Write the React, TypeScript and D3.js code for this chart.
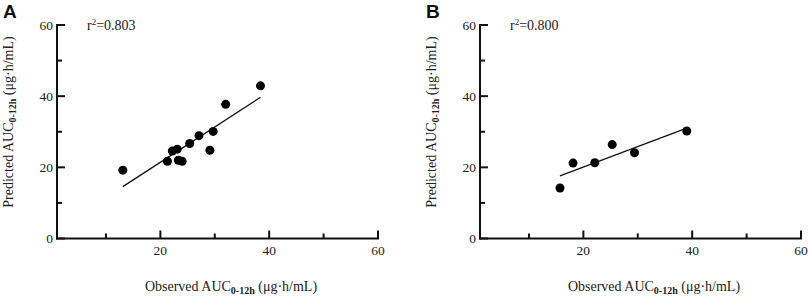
import React from "react";
import * as d3 from "d3";

// Panel A data (observed vs predicted AUC0-12h)
const obsA = [13.1, 21.3, 22.2, 23.1, 23.3, 24.0, 25.4, 27.1, 29.1, 29.7, 32.0, 38.4];
const predA = [19.2, 21.7, 24.6, 25.1, 22.0, 21.7, 26.7, 28.9, 24.8, 30.1, 37.7, 42.9];
// Panel B data
const obsB = [15.7, 18.1, 22.1, 25.3, 29.4, 39.0];
const predB = [14.2, 21.2, 21.3, 26.4, 24.1, 30.2];

const panelLabels = ["A", "B"];
const r2Labels = ["r\u00b2=0.803", "r\u00b2=0.800"];
const xTicks = [10, 20, 30, 40, 50, 60];
const xTickLabels = [20, 40, 60];
const yTicks = [0, 10, 20, 30, 40, 50, 60];
const yTickLabels = [0, 20, 40, 60];

const serif = "'Liberation Serif', 'Times New Roman', serif";

function ols(xs: number[], ys: number[]) {
  const mx = d3.mean(xs)!;
  const my = d3.mean(ys)!;
  let sxy = 0;
  let sxx = 0;
  xs.forEach((x, i) => {
    sxy += (x - mx) * (ys[i] - my);
    sxx += (x - mx) * (x - mx);
  });
  const slope = sxy / sxx;
  return { slope, intercept: my - slope * mx };
}

function Panel({ left, label, r2, xs, ys }: { left: number; label: string; r2: string; xs: number[]; ys: number[] }) {
  const x = d3.scaleLinear().domain([1, 60]).range([left, left + 321]);
  const y = d3.scaleLinear().domain([0, 60]).range([238.5, 25]);
  const fit = ols(xs, ys);
  const ext = d3.extent(xs) as [number, number];
  const line = d3.line<number>().x((d) => x(d)).y((d) => y(fit.intercept + fit.slope * d));
  const axX0 = x(1);
  return (
    <g>
      <text x={left - 54} y={18.3} fontFamily="'Liberation Sans', Arial, sans-serif" fontWeight="bold" fontSize={19} fill="#111">
        {label}
      </text>
      {/* axes */}
      <line x1={axX0} x2={axX0} y1={y(0) + 1} y2={y(60) - 1} stroke="#111" strokeWidth={2} />
      <line x1={axX0 - 1} x2={x(60) + 1} y1={y(0)} y2={y(0)} stroke="#111" strokeWidth={2} />
      {yTicks.map((t) => (
        <line key={"yt" + t} x1={axX0} x2={axX0 + (t % 20 === 0 ? 8 : 5)} y1={y(t)} y2={y(t)} stroke="#111" strokeWidth={2} />
      ))}
      {xTicks.map((t) => (
        <line key={"xt" + t} x1={x(t)} x2={x(t)} y1={y(0)} y2={y(0) - (t % 20 === 0 ? 8 : 5)} stroke="#111" strokeWidth={2} />
      ))}
      {yTickLabels.map((t) => (
        <text key={"yl" + t} x={axX0 - 4} y={y(t)} dy="0.34em" textAnchor="end" fontFamily={serif} fontSize={13.5} fill="#222">
          {t}
        </text>
      ))}
      {xTickLabels.map((t) => (
        <text key={"xl" + t} x={x(t)} y={254.5} textAnchor="middle" fontFamily={serif} fontSize={13.5} fill="#222">
          {t}
        </text>
      ))}
      {/* regression line */}
      <path d={line(ext) || ""} stroke="#111" strokeWidth={1.3} fill="none" />
      {xs.map((v, i) => (
        <circle key={"p" + i} cx={x(v)} cy={y(ys[i])} r={4.5} fill="#000" />
      ))}
      <text x={axX0 + 30} y={29.5} fontFamily={serif} fontSize={14} fill="#222">
        <tspan>r</tspan>
        <tspan dy={-5} fontSize={9}>2</tspan>
        <tspan dy={5}>{r2.slice(2)}</tspan>
      </text>
      {/* axis titles */}
      <text x={axX0 + 174} y={290.5} textAnchor="middle" fontFamily={serif} fontSize={14} fill="#222">
        <tspan>Observed AUC</tspan>
        <tspan dy={3} fontSize={10} fontWeight="bold">0-12h</tspan>
        <tspan dy={-3}> (μg·h/mL)</tspan>
      </text>
      <text
        transform={`translate(${axX0 - 44},122) rotate(-90)`}
        textAnchor="middle"
        fontFamily={serif}
        fontSize={14}
        fill="#222"
      >
        <tspan>Predicted AUC</tspan>
        <tspan dy={3} fontSize={10} fontWeight="bold">0-12h</tspan>
        <tspan dy={-3}> (μg·h/mL)</tspan>
      </text>
    </g>
  );
}

export default function App() {
  return (
    <svg width={809} height={296} style={{ position: "absolute", left: 0, top: 0, background: "#fff" }}>
      <Panel left={57} label={panelLabels[0]} r2={r2Labels[0]} xs={obsA} ys={predA} />
      <Panel left={480} label={panelLabels[1]} r2={r2Labels[1]} xs={obsB} ys={predB} />
    </svg>
  );
}
